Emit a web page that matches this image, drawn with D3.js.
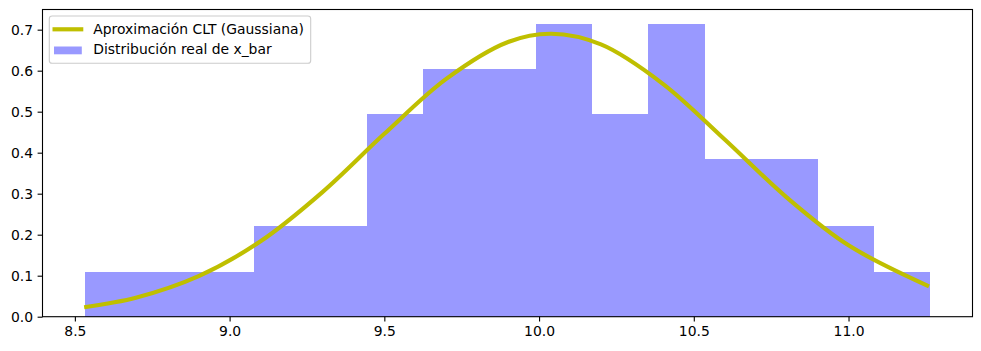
<!DOCTYPE html>
<html lang="es">
<head>
<meta charset="UTF-8">
<title>Aproximación CLT</title>
<script src="https://d3js.org/d3.v7.min.js"></script>
<style>
  body { margin: 0; background: #fff; }
  svg { display: block; font-family: 'DejaVu Sans', sans-serif; }
</style>
</head>
<body>
<svg id="chart" width="981" height="351"></svg>
<script>
// bordes de los bins del histograma (15 bins)
const binEdges = [8.532, 8.714, 8.896, 9.078, 9.260, 9.443, 9.625, 9.807, 9.989,
                  10.171, 10.353, 10.536, 10.718, 10.900, 11.082, 11.264];
// densidad de cada bin
const binDensity = [0.110, 0.110, 0.110, 0.220, 0.220, 0.494, 0.604, 0.604, 0.714,
                    0.494, 0.714, 0.384, 0.384, 0.220, 0.110];
// curva gaussiana
const curveX = [8.53, 8.7, 8.9, 9.1, 9.3, 9.5, 9.7, 9.9, 10.04, 10.2, 10.4, 10.6, 10.8, 11.0, 11.26];
const curveY = [0.023, 0.047, 0.099, 0.184, 0.304, 0.446, 0.580, 0.670, 0.690, 0.664, 0.568, 0.432, 0.291, 0.174, 0.074];
const xTicks = [8.5, 9.0, 9.5, 10.0, 10.5, 11.0];
const yTicks = [0.0, 0.1, 0.2, 0.3, 0.4, 0.5, 0.6, 0.7];
const legendLabels = ["Aproximación CLT (Gaussiana)", "Distribución real de x_bar"];

const mLeft = 42.5, mRight = 972.5, mTop = 9.5, mBottom = 316.7;
const svg = d3.select("#chart");

const x = d3.scaleLinear().domain([8.3954, 11.4006]).range([mLeft, mRight]);
const y = d3.scaleLinear().domain([0, 0.7492]).range([mBottom, mTop]);

// barras
const bins = binDensity.map((d, i) => ({ x0: binEdges[i], x1: binEdges[i + 1], v: d }));
svg.append("g")
  .attr("shape-rendering", "crispEdges")
  .selectAll("rect")
  .data(bins)
  .join("rect")
  .attr("x", d => Math.round(x(d.x0)))
  .attr("width", d => Math.round(x(d.x1)) - Math.round(x(d.x0)))
  .attr("y", d => Math.round(y(d.v)))
  .attr("height", d => Math.round(y(0)) - Math.round(y(d.v)))
  .attr("fill", "#9999ff");

// curva
const pts = curveX.map((v, i) => [v, curveY[i]]);
svg.append("path")
  .datum(pts)
  .attr("fill", "none")
  .attr("stroke", "#bfbf00")
  .attr("stroke-width", 4.17)
  .attr("d", d3.line().x(d => x(d[0])).y(d => y(d[1])).curve(d3.curveCatmullRom.alpha(0.5)));

// marco
svg.append("rect")
  .attr("x", mLeft).attr("y", mTop)
  .attr("width", mRight - mLeft).attr("height", mBottom - mTop)
  .attr("fill", "none").attr("stroke", "#000").attr("stroke-width", 1.1);

// ejes
const xAxis = svg.append("g").attr("transform", `translate(0,${mBottom})`)
  .call(d3.axisBottom(x).tickValues(xTicks).tickFormat(d3.format(".1f")).tickSize(4.9).tickPadding(4.5));
const yAxis = svg.append("g").attr("transform", `translate(${mLeft},0)`)
  .call(d3.axisLeft(y).tickValues(yTicks).tickFormat(d3.format(".1f")).tickSize(4.9).tickPadding(4.5));
[xAxis, yAxis].forEach(a => {
  a.select(".domain").remove();
  a.selectAll("line").attr("stroke", "#000").attr("stroke-width", 1.1);
  a.selectAll("text").attr("fill", "#000").style("font-size", "13.9px").style("font-family", "'DejaVu Sans', sans-serif");
});

// leyenda
const lg = svg.append("g");
lg.append("rect")
  .attr("x", 49.3).attr("y", 16).attr("width", 261.4).attr("height", 47.3)
  .attr("rx", 2.8).attr("fill", "#fff").attr("fill-opacity", 0.8)
  .attr("stroke", "#cccccc").attr("stroke-width", 1.1);
lg.append("line")
  .attr("x1", 52.5).attr("x2", 83.3).attr("y1", 29.3).attr("y2", 29.3)
  .attr("stroke", "#bfbf00").attr("stroke-width", 4.17);
lg.append("rect")
  .attr("x", 54).attr("y", 46.5).attr("width", 27.8).attr("height", 7.8)
  .attr("fill", "#9999ff");
lg.selectAll("text")
  .data(legendLabels)
  .join("text")
  .attr("x", 93.3)
  .attr("y", (d, i) => 34.2 + i * 20.2)
  .style("font-size", "13.9px")
  .attr("fill", "#000")
  .text(d => d);
</script>
</body>
</html>
